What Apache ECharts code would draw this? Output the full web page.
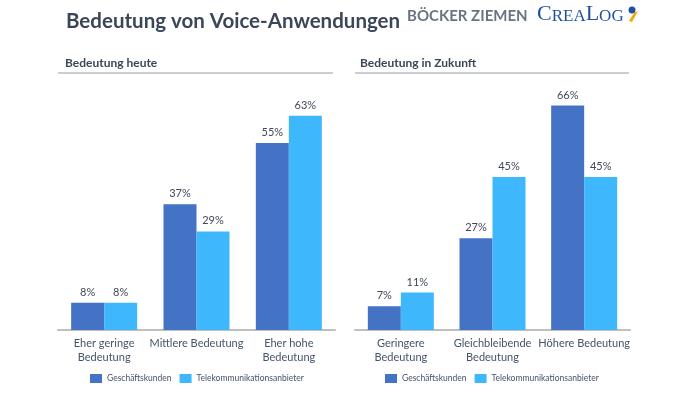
<!DOCTYPE html>
<html><head><meta charset="utf-8">
<script src="https://cdn.jsdelivr.net/npm/echarts@6/dist/echarts.min.js"></script>
<style>html,body{margin:0;padding:0;background:#fff}#c{width:695px;height:395px}</style>
</head><body><div id="c"></div>
<script>
var catsToday = ['Eher geringe\nBedeutung', 'Mittlere Bedeutung', 'Eher hohe\nBedeutung'];
var catsFuture = ['Geringere\nBedeutung', 'Gleichbleibende\nBedeutung', 'Höhere Bedeutung'];
var seriesNames = ['Geschäftskunden', 'Telekommunikationsanbieter'];
var todayBusiness = [8, 37, 55];
var todayTelco = [8, 29, 63];
var futureBusiness = [7, 27, 66];
var futureTelco = [11, 45, 45];

var F = 'Lato, "Open Sans", sans-serif';
var dark = '#4472c4', light = '#3fb7fd';
var chart = echarts.init(document.getElementById('c'));
function bar(name, data, color, idx) {
  return {
    type: 'bar', name: name, data: data, xAxisIndex: idx, yAxisIndex: idx,
    barWidth: 33, barGap: '0%', itemStyle: { color: color },
    label: { show: true, position: 'top', formatter: '{c}%', color: '#404858', fontSize: 11, fontFamily: F, distance: 5 }
  };
}
function xa(cats, idx) {
  return {
    type: 'category', data: cats, gridIndex: idx,
    axisLine: { lineStyle: { color: '#bfbfbf', width: 2 } }, axisTick: { show: false },
    axisLabel: { color: '#44546a', fontSize: 11, fontFamily: F, lineHeight: 14, margin: 6, interval: 0 }
  };
}
function ya(idx) {
  return { type: 'value', gridIndex: idx, min: 0, max: 70, show: false, splitLine: { show: false } };
}
function lg(left) {
  return { data: seriesNames, left: left, top: 374, padding: 0, itemWidth: 12, itemHeight: 9, itemGap: 8, icon: 'rect',
    textStyle: { color: '#44546a', fontSize: 8.5, fontFamily: F } };
}
chart.setOption({
  animation: false,
  title: {
    text: 'Bedeutung von Voice-Anwendungen', left: 61, top: 6,
    textStyle: { color: '#3b4758', fontSize: 20.5, fontWeight: 'bold', fontFamily: F }
  },
  grid: [
    { left: 58, width: 277, top: 92, height: 238 },
    { left: 355, width: 275, top: 92, height: 238 }
  ],
  xAxis: [xa(catsToday, 0), xa(catsFuture, 1)],
  yAxis: [ya(0), ya(1)],
  legend: [lg(90), lg(385)],
  series: [
    bar(seriesNames[0], todayBusiness, dark, 0),
    bar(seriesNames[1], todayTelco, light, 0),
    bar(seriesNames[0], futureBusiness, dark, 1),
    bar(seriesNames[1], futureTelco, light, 1)
  ],
  graphic: [
    { type: 'text', left: 407, top: 9, style: { text: 'BÖCKER ZIEMEN', fill: '#6b7382', font: 'bold 15px ' + F, letterSpacing: 1.2 } },
    { type: 'text', left: 537, top: 3, style: {
        text: '{b|C}{s|REA}{b|L}{s|OG}',
        rich: {
          b: { fontSize: 22, fontFamily: '"Liberation Serif", serif', fill: '#1f4f9e', verticalAlign: 'bottom' },
          s: { fontSize: 17, fontFamily: '"Liberation Serif", serif', fill: '#1f4f9e', verticalAlign: 'bottom' }
        } } },
    { type: 'circle', shape: { cx: 632, cy: 10, r: 3.5 }, style: { fill: '#1f4f9e' } },
    { type: 'polygon', shape: { points: [[634, 13], [638, 11], [632, 22], [629, 21]] }, style: { fill: '#f2a900' } },
    { type: 'text', left: 65, top: 57, style: { text: 'Bedeutung heute', fill: '#3b4758', font: 'bold 12px ' + F } },
    { type: 'text', left: 360, top: 57, style: { text: 'Bedeutung in Zukunft', fill: '#3b4758', font: 'bold 12px ' + F } },
    { type: 'line', shape: { x1: 58, y1: 73, x2: 333, y2: 73 }, style: { stroke: '#b8bcc4', lineWidth: 1.5 } },
    { type: 'line', shape: { x1: 355, y1: 73, x2: 629, y2: 73 }, style: { stroke: '#b8bcc4', lineWidth: 1.5 } }
  ]
});
</script></body></html>
